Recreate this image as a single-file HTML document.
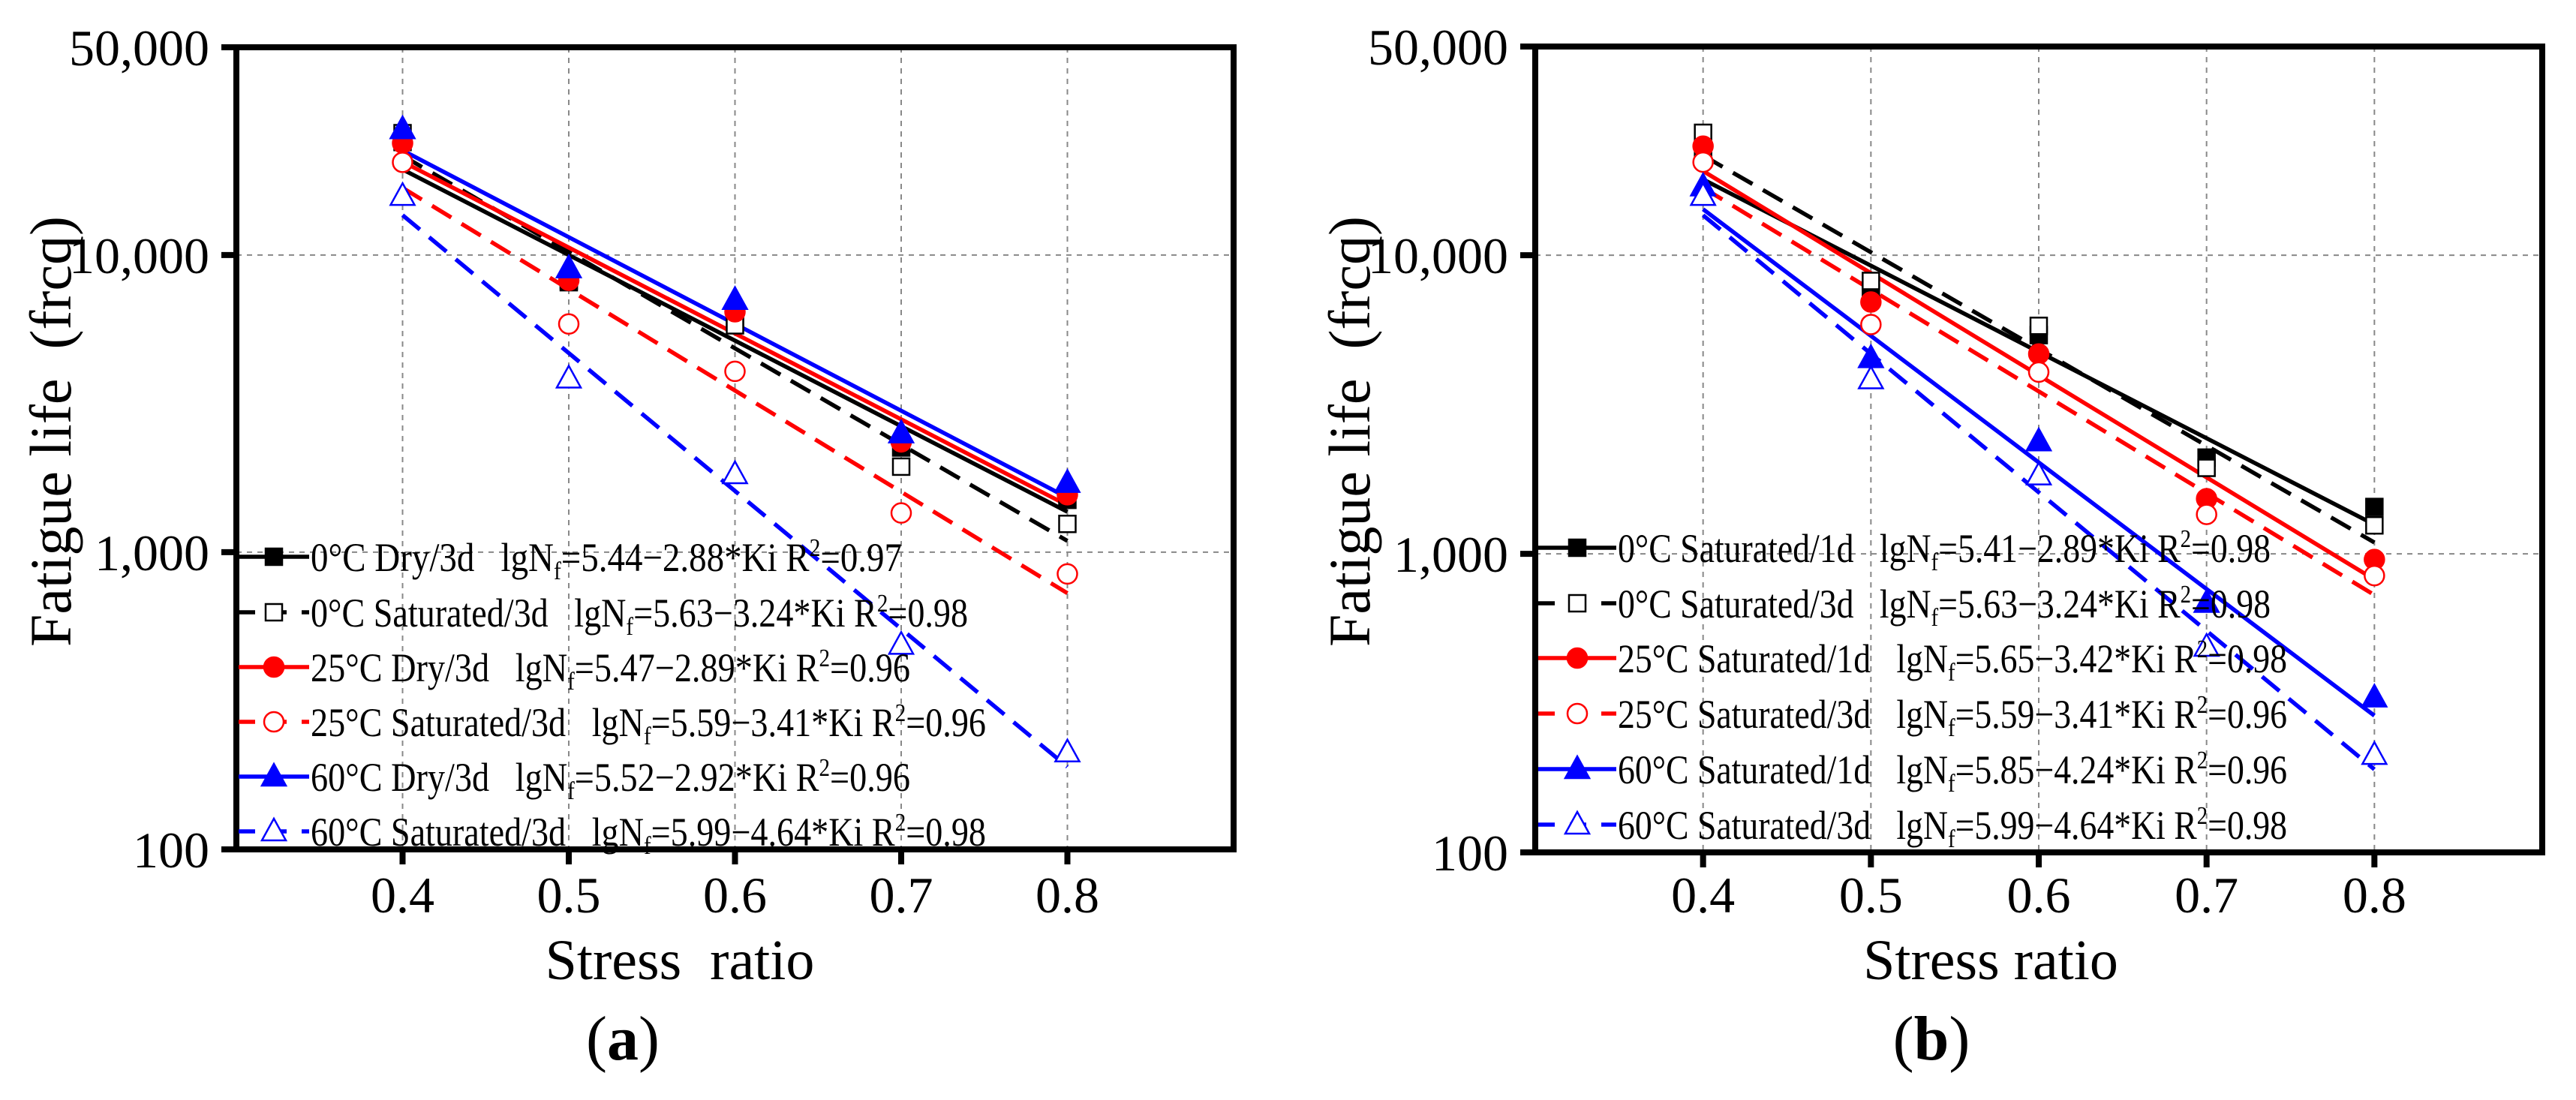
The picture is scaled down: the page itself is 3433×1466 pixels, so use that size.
<!DOCTYPE html>
<html><head><meta charset="utf-8"><style>
html,body{margin:0;padding:0;background:#fff;}
svg{display:block;font-family:"Liberation Serif",serif;}
text{white-space:pre;}
</style></head><body>
<svg id="fig" width="3433" height="1466" viewBox="0 0 3433 1466" xmlns="http://www.w3.org/2000/svg"></svg>
<script>
// ---- data ----
const stressRatios = [0.4, 0.5, 0.6, 0.7, 0.8];
const yTickValues = [100, 1000, 10000, 50000];
const yTickLabels = ["100", "1,000", "10,000", "50,000"];
const xTickLabels = ["0.4", "0.5", "0.6", "0.7", "0.8"];

// panel a series
const a_dry0 = [24000, 8100, 6100, 2250, 1500];
const a_sat0 = [25700, 8200, 5800, 1940, 1245];
const a_dry25 = [23800, 8220, 6440, 2350, 1560];
const a_sat25 = [20500, 5860, 4060, 1355, 845];
const a_dry60 = [26500, 9020, 7060, 2510, 1710];
const a_sat60 = [15800, 3840, 1830, 488, 212];
const a_intercepts = [5.44, 5.63, 5.47, 5.59, 5.52, 5.99];
const a_slopes = [2.88, 3.24, 2.89, 3.41, 2.92, 4.64];
const a_labels = ["0°C Dry/3d   ", "0°C Saturated/3d   ", "25°C Dry/3d   ", "25°C Saturated/3d   ", "60°C Dry/3d   ", "60°C Saturated/3d   "];
const a_r2 = ["0.97", "0.98", "0.96", "0.96", "0.96", "0.98"];

// panel b series
const b_sat1d0 = [22600, 7470, 5400, 2100, 1435];
const b_sat3d0 = [25700, 8200, 5800, 1940, 1245];
const b_sat1d25 = [23200, 6970, 4670, 1530, 957];
const b_sat3d25 = [20500, 5860, 4060, 1355, 845];
const b_sat1d60 = [17000, 4520, 2380, 685, 330];
const b_sat3d60 = [15800, 3840, 1830, 488, 212];
const b_intercepts = [5.41, 5.63, 5.65, 5.59, 5.85, 5.99];
const b_slopes = [2.89, 3.24, 3.42, 3.41, 4.24, 4.64];
const b_labels = ["0°C Saturated/1d   ", "0°C Saturated/3d   ", "25°C Saturated/1d   ", "25°C Saturated/3d   ", "60°C Saturated/1d   ", "60°C Saturated/3d   "];
const b_r2 = ["0.98", "0.98", "0.98", "0.96", "0.96", "0.98"];

const NS = "http://www.w3.org/2000/svg";
const svg = document.getElementById("fig");
function mk(tag, attrs, parent) {
  const e = document.createElementNS(NS, tag);
  for (const k in attrs) e.setAttribute(k, attrs[k]);
  (parent || svg).appendChild(e);
  return e;
}
const styles = [
  {color:"#000", dash:null, shape:"square", fill:true},
  {color:"#000", dash:"30 16", shape:"square", fill:false},
  {color:"#f00", dash:null, shape:"circle", fill:true},
  {color:"#f00", dash:"30 16", shape:"circle", fill:false},
  {color:"#00f", dash:null, shape:"tri", fill:true},
  {color:"#00f", dash:"30 16", shape:"tri", fill:false}
];
const names = ["0c","0c-sat","25c","25c-sat","60c","60c-sat"];

function marker(g, shape, cx, cy, color, fill) {
  let m;
  if (shape === "square") m = mk("rect", {x:cx-11, y:cy-11, width:22, height:22, fill:fill?color:"#fff", stroke:color, "stroke-width":2.5}, g);
  else if (shape === "circle") m = mk("circle", {cx:cx, cy:cy, r:13, fill:fill?color:"#fff", stroke:color, "stroke-width":2.5}, g);
  else m = mk("polygon", {points:`${cx},${cy-17} ${cx+16},${cy+12} ${cx-16},${cy+12}`, fill:fill?color:"#fff", stroke:color, "stroke-width":2.5}, g);
  return m;
}

function panel(P) {
  const g = mk("g", {});
  
  
  const xs = v => P.L + (v - 0.3) / 0.6 * (P.R - P.L);
  const ys = v => P.B - (Math.log10(v) - 2) / Math.log10(500) * (P.B - P.T);
  stressRatios.forEach(v => {
    const l = mk("line", {x1:xs(v), x2:xs(v), y1:P.T, y2:P.B, stroke:"#888", "stroke-width":2, "stroke-dasharray":"7 7"}, g);
    
    
  });
  [1000, 10000].forEach(v => {
    const l = mk("line", {x1:P.L, x2:P.R, y1:ys(v), y2:ys(v), stroke:"#888", "stroke-width":2, "stroke-dasharray":"7 7"}, g);
    
    
  });
  P.intercepts.forEach((a, i) => {
    const s = styles[i];
    const y1 = Math.pow(10, a - P.slopes[i] * 0.4), y2 = Math.pow(10, a - P.slopes[i] * 0.8);
    const l = mk("line", {x1:xs(0.4), y1:ys(y1), x2:xs(0.8), y2:ys(y2), stroke:s.color, "stroke-width":5.5}, g);
    if (s.dash) l.setAttribute("stroke-dasharray", s.dash);
    
    
  });
  P.series.forEach((ser, i) => {
    const s = styles[i];
    ser.forEach((v, j) => {
      const m = marker(g, s.shape, xs(stressRatios[j]), ys(v), s.color, s.fill);
      
      
    });
  });
  const fr = mk("rect", {x:P.L, y:P.T, width:P.R-P.L, height:P.B-P.T, fill:"none", stroke:"#000", "stroke-width":8}, g);
  
  
  yTickValues.forEach((v, i) => {
    const y = ys(v);
    const t = mk("line", {x1:P.L-20, x2:P.L, y1:y, y2:y, stroke:"#000", "stroke-width":8}, g);
    
    
    const tx = mk("text", {x:P.L-36, y:y+24, "font-size":68, "text-anchor":"end"}, g);
    tx.textContent = yTickLabels[i];
    
    
  });
  stressRatios.forEach((v, i) => {
    const x = xs(v);
    const t = mk("line", {x1:x, x2:x, y1:P.B, y2:P.B+20, stroke:"#000", "stroke-width":8}, g);
    
    
    const tx = mk("text", {x:x, y:1216, "font-size":68, "text-anchor":"middle"}, g);
    tx.textContent = xTickLabels[i];
    
    
  });
  const yt = mk("text", {x:0, y:0, "font-size":78, "text-anchor":"middle", transform:`translate(${P.yTitleX},575) rotate(-90)`}, g);
  yt.textContent = "Fatigue life  (frcq)";
  
  
  const xt = mk("text", {x:P.xTitleX, y:1305, "font-size":76, "text-anchor":"middle"}, g);
  xt.textContent = P.xTitle;
  
  
  const pl = mk("text", {x:P.capX, y:1412, "font-size":84, "text-anchor":"middle"}, g);
  pl.innerHTML = '(<tspan font-weight="bold">' + P.cap + '</tspan>)';
  
  
  P.labels.forEach((lab, i) => {
    const s = styles[i];
    const y = P.legY[i];
    const lg = mk("g", {}, g);
    
    
    const ln = mk("line", {x1:P.legX0, x2:P.legX1, y1:y, y2:y, stroke:s.color, "stroke-width":5.5}, lg);
    if (s.dash) ln.setAttribute("stroke-dasharray", "22 20");
    marker(lg, s.shape, (P.legX0 + P.legX1) / 2, y, s.color, s.fill);
    const t = mk("text", {x:P.legX1 + 2, y:y + 19, "font-size":54, textLength:P.legW[i], lengthAdjust:"spacingAndGlyphs"}, lg);
    t.innerHTML = lab + 'lgN<tspan font-size="34" dy="11">f</tspan><tspan dy="-11">=' + P.intercepts[i].toFixed(2) + '\u2212' + P.slopes[i].toFixed(2) + '*Ki R</tspan><tspan font-size="34" dy="-20">2</tspan><tspan dy="20">=' + P.r2[i] + '</tspan>';
  });
}

panel({name:"panel-a", L:315, R:1644, T:63, B:1132, yTitleX:94, xTitleX:906, xTitle:"Stress  ratio", capX:830, cap:"a",
  series:[a_dry0, a_sat0, a_dry25, a_sat25, a_dry60, a_sat60], intercepts:a_intercepts, slopes:a_slopes, labels:a_labels, r2:a_r2,
  legY:[742, 816, 889, 962, 1035, 1108], legX0:318, legX1:412, legW:[788, 876, 799, 900, 799, 900]});
panel({name:"panel-b", L:2046, R:3388, T:62, B:1136, yTitleX:1825, xTitleX:2653, xTitle:"Stress ratio", capX:2574, cap:"b",
  series:[b_sat1d0, b_sat3d0, b_sat1d25, b_sat3d25, b_sat1d60, b_sat3d60], intercepts:b_intercepts, slopes:b_slopes, labels:b_labels, r2:b_r2,
  legY:[730, 804, 877, 951, 1025, 1099], legX0:2050, legX1:2154, legW:[870, 870, 892, 892, 892, 892]});
</script>
</body></html>
